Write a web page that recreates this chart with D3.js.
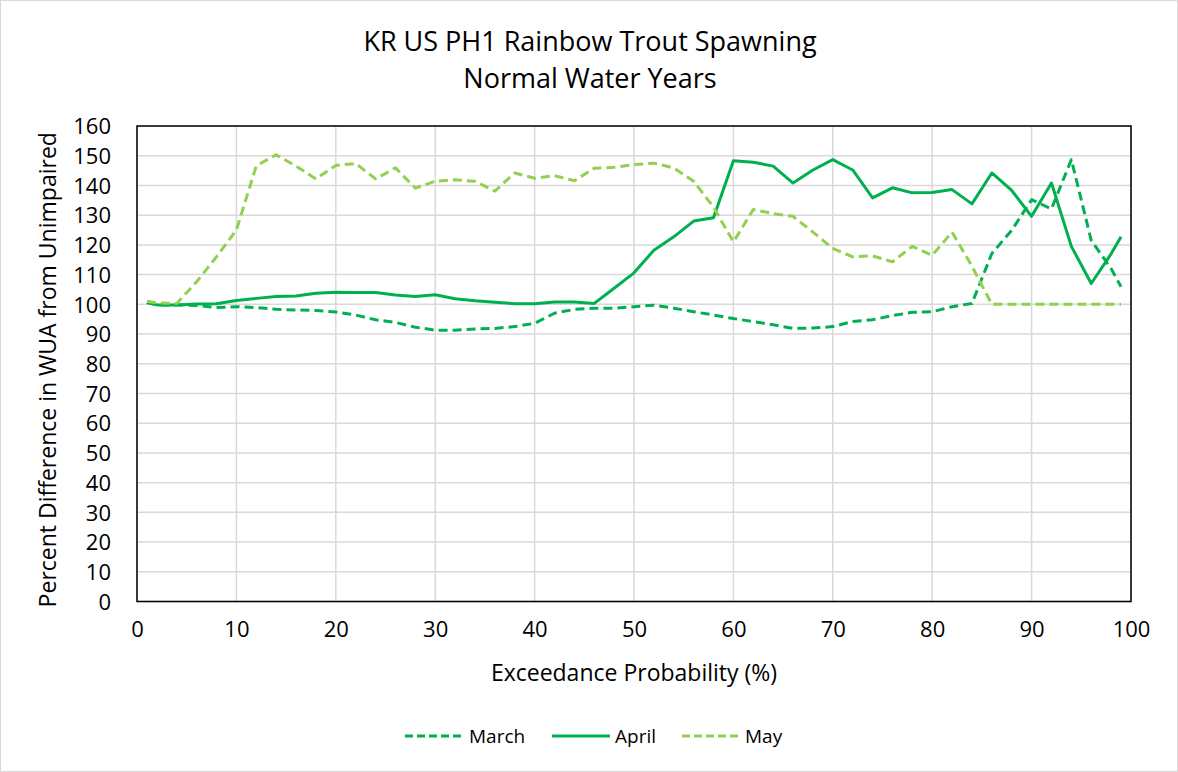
<!DOCTYPE html>
<html>
<head>
<meta charset="utf-8">
<script src="https://cdn.jsdelivr.net/npm/d3@7/dist/d3.min.js"></script>
<style>
  html, body { margin: 0; padding: 0; background: #fff; }
  svg { display: block; font-family: "Open Sans", Carlito, Calibri, sans-serif; }
</style>
</head>
<body>
<svg id="chart" width="1178" height="772"></svg>
<script>
// Exceedance probability (%) at each sample
const exceedance = [1, 2, 4, 6, 8, 10, 12, 14, 16, 18, 20, 22, 24, 26, 28, 30, 32, 34, 36, 38, 40,
  42, 44, 46, 48, 50, 52, 54, 56, 58, 60, 62, 64, 66, 68, 70, 72, 74, 76, 78, 80,
  82, 84, 86, 88, 90, 92, 94, 96, 98, 99];

// Percent difference in WUA from unimpaired, by month
const march = [100.6, 99.8, 99.8, 99.6, 98.9, 99.2, 98.9, 98.3, 98.1, 97.9, 97.4, 96.4, 94.8, 93.9, 92.3, 91.3,
  91.3, 91.7, 91.9, 92.5, 93.6, 97.0, 98.3, 98.7, 98.7, 99.2, 99.7, 98.7, 97.5, 96.4, 95.2,
  94.2, 93.1, 91.9, 92.0, 92.5, 94.2, 94.8, 96.2, 97.3, 97.5, 99.2, 100.3, 117.1, 124.9, 135.2,
  132.1, 148.7, 121.5, 112.0, 105.9];
const april = [100.6, 99.8, 99.8, 100.1, 100.2, 101.3, 102.0, 102.6, 102.8, 103.7, 104.1, 104.0, 104.0, 103.1,
  102.6, 103.2, 101.9, 101.2, 100.7, 100.2, 100.2, 100.8, 100.8, 100.3, 105.4, 110.6, 118.2, 122.7,
  128.0, 129.1, 148.3, 147.8, 146.5, 140.8, 145.2, 148.7, 145.2, 135.8, 139.2, 137.5, 137.6,
  138.6, 133.8, 144.2, 138.3, 129.6, 140.8, 119.5, 107.0, 117.0, 122.7];
const may = [101.0, 100.5, 100.3, 107.6, 116.0, 125.0, 146.6, 150.3, 146.5, 142.2, 146.7, 147.4, 142.2, 145.9,
  139.1, 141.4, 141.9, 141.4, 138.1, 144.2, 142.4, 143.3, 141.6, 145.8, 146.1, 147.0, 147.5,
  145.9, 141.4, 132.7, 121.0, 131.9, 130.5, 129.6, 124.3, 118.8, 116.0, 116.3, 114.3, 119.5,
  116.5, 124.3, 112.8, 100.0, 100.0, 100.0, 100.0, 100.0, 100.0, 100.0, 100.0];

const xTicks = [0, 10, 20, 30, 40, 50, 60, 70, 80, 90, 100];
const yTicks = [0, 10, 20, 30, 40, 50, 60, 70, 80, 90, 100, 110, 120, 130, 140, 150, 160];

const titleLines = ["KR US PH1 Rainbow Trout Spawning", "Normal Water Years"];
const xTitle = "Exceedance Probability (%)";
const yTitle = "Percent Difference in WUA from Unimpaired";

const seriesList = [
  { name: "March", values: march, color: "#00B050", dash: "9,5" },
  { name: "April", values: april, color: "#00B050", dash: null },
  { name: "May", values: may, color: "#92D050", dash: "9,5" }
];

const FONT = "'Open Sans', Carlito, Calibri, sans-serif";
const svg = d3.select("#chart");
const W = 1178, H = 772;
const plot = { left: 137, right: 1131, top: 126, bottom: 601.5 };

// chart area outline
svg.append("rect")
  .attr("x", 0.5).attr("y", 0.5)
  .attr("width", W - 1).attr("height", H - 1)
  .attr("fill", "#fff").attr("stroke", "#d9d9d9").attr("stroke-width", 1);

const x = d3.scaleLinear().domain([0, 100]).range([plot.left, plot.right]);
const y = d3.scaleLinear().domain([0, 160]).range([plot.bottom, plot.top]);

// gridlines
const grid = svg.append("g").attr("stroke", "#d9d9d9").attr("stroke-width", 1.5);
grid.selectAll("line.h").data(yTicks).join("line")
  .attr("x1", plot.left).attr("x2", plot.right)
  .attr("y1", d => y(d)).attr("y2", d => y(d));
grid.selectAll("line.v").data(xTicks).join("line")
  .attr("y1", plot.top).attr("y2", plot.bottom)
  .attr("x1", d => x(d)).attr("x2", d => x(d));

// axes (labels only; the frame draws the axis lines)
const xAxis = svg.append("g")
  .attr("transform", `translate(0,${plot.bottom})`)
  .call(d3.axisBottom(x).tickValues(xTicks).tickSize(0).tickPadding(20));
const yAxis = svg.append("g")
  .attr("transform", `translate(${plot.left},0)`)
  .call(d3.axisLeft(y).tickValues(yTicks).tickSize(0).tickPadding(26));
[xAxis, yAxis].forEach(a => {
  a.select(".domain").remove();
  a.selectAll("text")
    .attr("font-family", FONT)
    .attr("font-size", 22).attr("fill", "#000");
});
yAxis.selectAll("text").attr("dy", "0.35em");

// series
const line = d3.line()
  .x((d, i) => x(exceedance[i]))
  .y(d => y(d));

svg.append("g").selectAll("path").data(seriesList).join("path")
  .attr("d", s => line(s.values))
  .attr("fill", "none")
  .attr("stroke", s => s.color)
  .attr("stroke-width", 3)
  .attr("stroke-linejoin", "round")
  .attr("stroke-dasharray", s => s.dash);

// plot frame
svg.append("rect")
  .attr("x", plot.left).attr("y", plot.top)
  .attr("width", plot.right - plot.left).attr("height", plot.bottom - plot.top)
  .attr("fill", "none").attr("stroke", "#000").attr("stroke-width", 1.5);

// titles
svg.append("g").selectAll("text").data(titleLines).join("text")
  .attr("x", 590)
  .attr("y", (d, i) => 51 + i * 37)
  .attr("text-anchor", "middle")
  .attr("font-size", 27).attr("fill", "#000")
  .text(d => d);

svg.append("text")
  .attr("x", (plot.left + plot.right) / 2).attr("y", 681)
  .attr("text-anchor", "middle").attr("font-size", 23).attr("fill", "#000")
  .text(xTitle);

svg.append("text")
  .attr("transform", `translate(56,${(plot.top + plot.bottom) / 2 + 6}) rotate(-90)`)
  .attr("text-anchor", "middle").attr("font-size", 23).attr("fill", "#000")
  .text(yTitle);

// legend
const legendItems = [
  { s: seriesList[0], x0: 405, tx: 469 },
  { s: seriesList[1], x0: 552, tx: 615 },
  { s: seriesList[2], x0: 682, tx: 745 }
];
const lg = svg.append("g");
legendItems.forEach(it => {
  lg.append("line")
    .attr("x1", it.x0).attr("x2", it.x0 + 58)
    .attr("y1", 736).attr("y2", 736)
    .attr("stroke", it.s.color).attr("stroke-width", 3)
    .attr("stroke-dasharray", it.s.dash ? "8,4" : null);
  lg.append("text")
    .attr("x", it.tx).attr("y", 736).attr("dy", "0.35em")
    .attr("font-size", 19).attr("fill", "#000")
    .text(it.s.name);
});
</script>
</body>
</html>
